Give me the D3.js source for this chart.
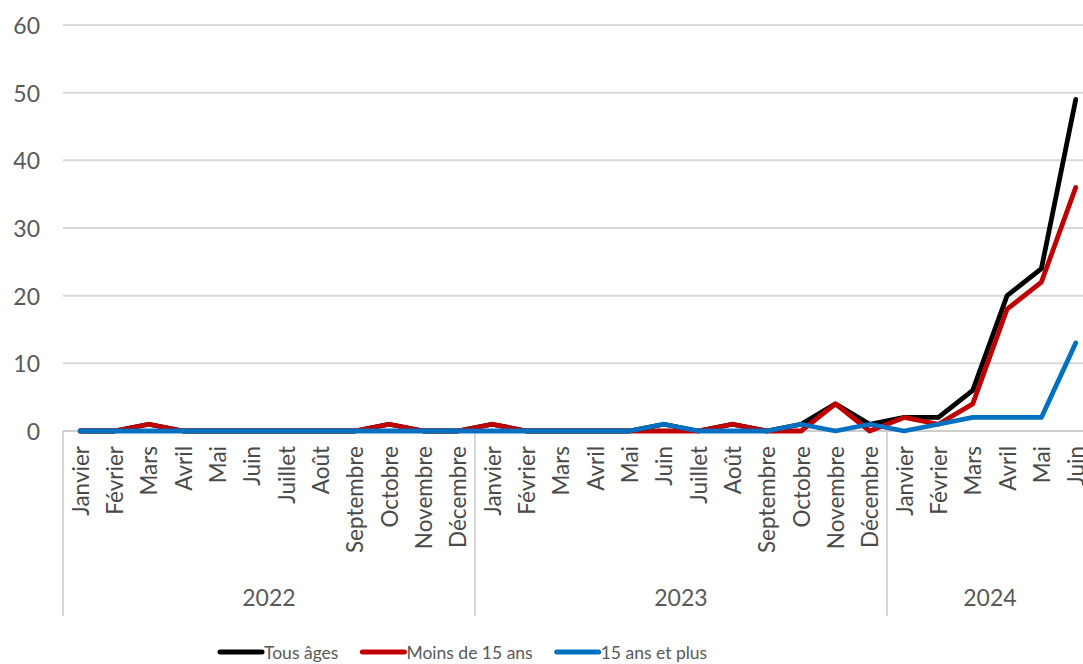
<!DOCTYPE html>
<html lang="fr">
<head>
<meta charset="utf-8">
<script src="https://cdn.jsdelivr.net/npm/d3@7"></script>
<style>
  html, body { margin: 0; padding: 0; background: #fff; }
  svg { display: block; }
  text { font-family: Lato, "Noto Sans", sans-serif; fill: #595959; }
</style>
</head>
<body>
<svg id="chart" width="1083" height="664"></svg>
<script>
// Monthly case counts, January 2022 to June 2024
const years = ["2022", "2023", "2024"];
const monthNames = ["Janvier", "Février", "Mars", "Avril", "Mai", "Juin",
  "Juillet", "Août", "Septembre", "Octobre", "Novembre", "Décembre"];
const monthsPerYear = [12, 12, 6];

const tousAges = [
  0, 0, 1, 0, 0, 0, 0, 0, 0, 1, 0, 0,
  1, 0, 0, 0, 0, 1, 0, 1, 0, 1, 4, 1,
  2, 2, 6, 20, 24, 49
];
const moins15 = [
  0, 0, 1, 0, 0, 0, 0, 0, 0, 1, 0, 0,
  1, 0, 0, 0, 0, 0, 0, 1, 0, 0, 4, 0,
  2, 1, 4, 18, 22, 36
];
const plus15 = [
  0, 0, 0, 0, 0, 0, 0, 0, 0, 0, 0, 0,
  0, 0, 0, 0, 0, 1, 0, 0, 0, 1, 0, 1,
  0, 1, 2, 2, 2, 13
];
const yTicks = [0, 10, 20, 30, 40, 50, 60];

const seriesNames = ["Tous âges", "Moins de 15 ans", "15 ans et plus"];
const seriesColors = ["#000000", "#C00000", "#0070C0"];
const seriesValues = [tousAges, moins15, plus15];

// one entry per month: label + year
const periods = [];
years.forEach((y, yi) => {
  for (let m = 0; m < monthsPerYear[yi]; m++) periods.push({ year: y, month: monthNames[m] });
});

const svg = d3.select("#chart");
const left = 63, step = 34.33;
const plotTop = 25, plotBottom = 431;
const right = left + step * periods.length;

const x = d3.scaleBand().domain(d3.range(periods.length)).range([left, right]).padding(0);
const y = d3.scaleLinear().domain([0, 60]).range([plotBottom, plotTop]);

// horizontal gridlines
svg.append("g").selectAll("line").data(yTicks).join("line")
  .attr("x1", left).attr("x2", right)
  .attr("y1", d => y(d)).attr("y2", d => y(d))
  .attr("stroke", "#d9d9d9").attr("stroke-width", 2);

// y tick labels
svg.append("g").selectAll("text").data(yTicks).join("text")
  .attr("x", 40).attr("y", d => y(d))
  .attr("text-anchor", "end").attr("dominant-baseline", "central")
  .style("font-size", "23px")
  .text(d => d);

// category axis: baseline, year separators
const axisColor = "#c8c8c8";
const sepBottom = 616;
svg.append("line")
  .attr("x1", left).attr("x2", right).attr("y1", plotBottom).attr("y2", plotBottom)
  .attr("stroke", axisColor).attr("stroke-width", 1.5);

let cum = 0;
const boundaries = [0];
monthsPerYear.forEach(n => { cum += n; boundaries.push(cum); });
svg.append("g").selectAll("line").data(boundaries).join("line")
  .attr("x1", d => left + d * x.bandwidth()).attr("x2", d => left + d * x.bandwidth())
  .attr("y1", plotBottom).attr("y2", sepBottom)
  .attr("stroke", axisColor).attr("stroke-width", 1.5);

// month labels, rotated
svg.append("g").selectAll("text").data(periods).join("text")
  .attr("transform", (d, i) => `translate(${x(i) + x.bandwidth() / 2},446) rotate(-90)`)
  .attr("text-anchor", "end").attr("dominant-baseline", "central")
  .style("font-size", "22.5px")
  .style("fill", "#4a4a4a")
  .text(d => d.month);

// year labels centred under their months
svg.append("g").selectAll("text").data(years).join("text")
  .attr("x", (d, i) => left + (boundaries[i] + boundaries[i + 1]) / 2 * x.bandwidth())
  .attr("y", 597)
  .attr("text-anchor", "middle").attr("dominant-baseline", "central")
  .style("font-size", "23px")
  .text(d => d);

// series lines
const line = d3.line().x((d, i) => x(i) + x.bandwidth() / 2).y(d => y(d));
svg.append("g").selectAll("path").data(seriesValues).join("path")
  .attr("d", d => line(d))
  .attr("fill", "none")
  .attr("stroke", (d, i) => seriesColors[i])
  .attr("stroke-width", 4.8)
  .attr("stroke-linejoin", "round")
  .attr("stroke-linecap", "round");

// legend
const legend = svg.append("g");
let lx = 220;
const ly = 652;
seriesNames.forEach((name, i) => {
  legend.append("line")
    .attr("x1", lx).attr("x2", lx + 42).attr("y1", ly).attr("y2", ly)
    .attr("stroke", seriesColors[i]).attr("stroke-width", 5).attr("stroke-linecap", "round");
  const t = legend.append("text")
    .attr("x", lx + 44).attr("y", ly)
    .attr("dominant-baseline", "central")
    .style("font-size", "17.5px")
    .text(name);
  lx += 44 + t.node().getComputedTextLength() + 24;
});
</script>
</body>
</html>
